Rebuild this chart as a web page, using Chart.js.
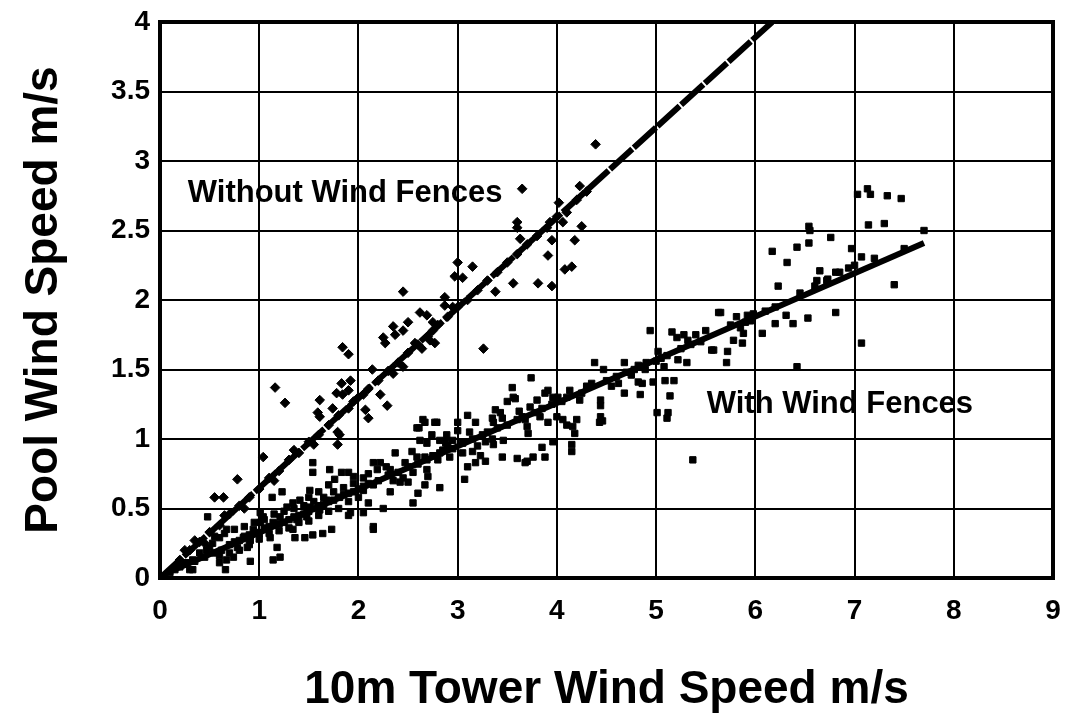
<!DOCTYPE html>
<html>
<head>
<meta charset="utf-8">
<script src="https://cdn.jsdelivr.net/npm/chart.js@4.4.1/dist/chart.umd.min.js"></script>
<style>
  html, body { margin: 0; padding: 0; background: #ffffff; }
  #c { display: block; }
</style>
</head>
<body>
<canvas id="c" width="1070" height="715"></canvas>
<script>
// ---------------- DATA ----------------
const xTickLabels = ['0', '1', '2', '3', '4', '5', '6', '7', '8', '9'];
const yTickLabels = ['0', '0.5', '1', '1.5', '2', '2.5', '3', '3.5', '4'];
const xAxisTitle = '10m Tower Wind Speed m/s';
const yAxisTitle = 'Pool Wind Speed m/s';
const withoutLabel = 'Without Wind Fences';
const withLabel = 'With Wind Fences';

// "Without Wind Fences" measurements (diamonds): [tower, pool]
const withoutFences = [
  [4.39,3.12],[3.65,2.80],[4.23,2.82],[4.02,2.70],[3.60,2.56],[3.60,2.52],[3.93,2.56],[4.06,2.56],
  [4.25,2.53],[3.63,2.44],[3.95,2.43],[4.18,2.43],[3.91,2.32],[4.08,2.22],[4.15,2.24],[3.00,2.27],
  [3.15,2.24],[2.97,2.17],[3.05,2.16],[3.56,2.12],[3.81,2.12],[3.95,2.10],[3.38,2.06],[2.45,2.06],
  [2.87,2.02],[2.87,1.96],[2.95,1.95],[2.62,1.91],[2.69,1.89],[2.75,1.84],[2.50,1.84],[2.35,1.81],
  [2.45,1.78],[2.25,1.73],[2.27,1.69],[2.37,1.75],[2.72,1.71],[2.77,1.69],[2.57,1.69],[2.64,1.65],
  [1.84,1.66],[1.90,1.61],[3.26,1.65],[2.14,1.50],[1.16,1.37],[1.26,1.26],[1.61,1.28],[1.83,1.40],
  [1.92,1.42],[1.90,1.35],[1.78,1.33],[1.84,1.32],[2.22,1.32],[2.29,1.24],[1.59,1.19],[1.61,1.16],
  [1.74,1.22],[2.07,1.21],[2.10,1.15],[1.79,1.05],[1.81,1.03],[1.79,0.96],[1.04,0.87],[0.78,0.71],
  [0.55,0.58],[0.64,0.58],
  [0.20,0.13],[0.30,0.20],[0.40,0.26],[0.50,0.33],[0.60,0.38],[0.70,0.46],[0.80,0.52],[0.90,0.58],
  [1.00,0.64],[1.10,0.72],[1.20,0.77],[1.30,0.85],[1.40,0.90],[1.50,0.98],[1.60,1.03],[1.70,1.10],
  [1.80,1.17],[1.90,1.22],[2.00,1.30],[2.10,1.36],[2.20,1.42],[2.30,1.49],[2.40,1.55],[2.50,1.62],
  [2.60,1.68],[2.70,1.74],[2.80,1.82],[2.90,1.88],[3.00,1.95],[3.10,2.00],[3.20,2.07],[3.40,2.20],
  [3.60,2.33],[3.80,2.46],[4.00,2.60],[4.10,2.63],[4.20,2.72],[2.35,1.47],[2.45,1.52],[1.95,1.27],
  [2.05,1.32],[2.75,1.78],[3.30,2.14],[3.50,2.27],[3.70,2.40],[3.90,2.52],[4.30,2.78],
  [0.35,0.27],[0.45,0.25],[0.65,0.45],[0.85,0.50],[1.15,0.70],[1.35,0.92],[1.55,0.96],[0.25,0.20]
];

// "With Wind Fences" measurements (squares): [tower, pool]
const withFences = [
  [7.03,2.76],[7.13,2.80],[7.16,2.76],[7.33,2.75],[7.47,2.73],[7.14,2.54],[7.30,2.55],[7.70,2.50],
  [6.54,2.53],[6.55,2.50],[6.17,2.35],[6.42,2.38],[6.54,2.41],[6.76,2.45],[6.97,2.37],[7.07,2.31],
  [6.32,2.27],[6.65,2.21],[6.81,2.20],[6.94,2.23],[6.62,2.14],[6.73,2.15],[6.23,2.10],[7.40,2.11],
  [5.65,1.91],[5.81,1.88],[5.92,1.89],[5.95,1.85],[5.85,1.80],[5.78,1.71],[5.87,1.69],[5.58,1.64],
  [5.72,1.63],[5.71,1.55],[5.88,1.76],[6.07,1.76],[6.20,1.83],[6.31,1.89],[6.38,1.83],[6.53,1.87],
  [6.81,1.91],[7.07,1.69],[6.42,1.52],[5.63,1.91],
  [6.45,2.05],[6.60,2.10],[6.20,1.95],[5.98,1.90],[6.10,1.92],[6.85,2.20],[7.00,2.25],[7.20,2.30],
  [7.50,2.37],[6.72,2.14],[5.75,1.82],[5.90,1.84],
  [4.94,1.78],[5.16,1.77],[5.21,1.73],[5.32,1.71],[5.56,1.64],[5.02,1.63],[5.11,1.60],[5.22,1.57],
  [5.31,1.55],[4.38,1.55],[4.68,1.55],[4.47,1.50],[4.82,1.53],[4.89,1.50],[3.74,1.44],[4.82,1.41],
  [4.86,1.40],[4.97,1.41],[5.09,1.42],[5.18,1.42],[4.68,1.33],[4.84,1.32],[5.14,1.31],[5.01,1.19],
  [5.12,1.19],[5.11,1.15],[4.44,1.16],[4.46,1.13],[4.43,1.12],[5.37,0.85],[3.91,1.35],[3.96,1.30],
  [4.13,1.35],[4.23,1.28],[4.30,1.37],[4.44,1.28],[4.44,1.24],[3.73,1.23],[3.78,1.19],[3.83,1.16],
  [3.68,1.14],[3.70,1.09],[3.91,1.12],[4.00,1.16],[4.06,1.14],[4.10,1.10],[4.16,1.09],[4.20,1.14],
  [4.18,1.04],[3.71,1.04],[3.96,0.98],[4.15,0.96],[4.15,0.91],[3.85,0.94],[3.88,0.87],[3.76,0.87],
  [3.68,0.83],
  [4.50,1.42],[4.60,1.45],[4.70,1.48],[4.75,1.46],[4.90,1.55],[5.00,1.56],[5.05,1.58],[5.25,1.65],
  [5.35,1.68],[5.45,1.70],[4.30,1.38],[4.25,1.33],[4.10,1.30],[4.05,1.27],[3.95,1.25],[3.85,1.22],
  [5.40,1.75],[5.50,1.78],[5.28,1.75],[4.55,1.38],[4.35,1.40],[4.62,1.40],[4.78,1.50],[5.08,1.52],
  [3.55,1.37],[3.56,1.30],[3.50,1.27],[3.38,1.21],[3.43,1.19],[3.35,1.15],[3.36,1.12],[3.10,1.17],
  [3.00,1.12],[3.46,0.99],[3.36,0.96],[3.45,0.87],[3.60,0.86],[3.70,0.84],[3.28,0.84],[3.15,0.91],
  [3.23,0.88],[3.18,0.83],[3.10,0.80],[3.07,0.71],[3.00,1.06],[2.95,0.99],[2.67,1.12],[2.79,1.12],
  [2.61,1.08],[2.62,0.99],[2.74,1.03],[2.89,1.03],[2.82,0.99],[2.69,0.97],[2.67,0.87],[2.69,0.85],
  [2.82,0.90],[2.92,0.87],[2.37,0.90],[2.54,0.91],[2.59,0.87],[2.47,0.83],[2.15,0.83],[2.22,0.83],
  [2.19,0.78],[2.32,0.78],[2.69,0.78],[2.70,0.73],[2.67,0.67],[2.60,0.61],[2.55,0.54],[2.42,0.69],
  [2.50,0.69],[2.32,0.62],[2.25,0.50],[2.82,0.65],[2.05,0.63],[2.10,0.54],[2.05,0.47],[2.15,0.37],
  [2.30,0.74],[2.40,0.76],[2.50,0.80],[2.60,0.82],[2.75,0.88],[2.85,0.92],[2.95,0.93],[3.05,0.97],
  [3.15,1.00],[3.25,1.03],[3.30,1.05],[3.40,1.08],[3.50,1.10],[3.60,1.14],[3.65,1.16],[3.20,0.95],
  [3.05,0.90],[2.90,0.95],[2.80,0.85],[2.35,0.70],[2.20,0.70],[2.45,0.72],[3.35,1.00],[2.65,1.14],
  [2.77,1.12],[3.18,1.12],[3.58,1.29],[3.88,1.33],[4.01,1.30],[2.59,1.08],
  [2.28,0.80],[2.55,0.76],[2.88,0.97],[3.12,1.05],[3.45,1.15],[3.28,0.98],[3.62,1.20],[3.80,1.28],
  [1.54,0.83],[1.54,0.76],[1.71,0.78],[1.83,0.76],[1.90,0.76],[1.95,0.73],[1.76,0.71],[1.51,0.63],
  [1.23,0.62],[1.13,0.58],[1.90,0.45],[2.15,0.35],[1.73,0.35],[1.64,0.32],[1.54,0.31],[1.46,0.29],
  [1.36,0.29],[0.91,0.12],[0.48,0.44],[0.30,0.06],[1.18,0.22],[1.21,0.15],[1.14,0.13],[1.38,0.42],
  [1.34,0.35],[0.74,0.15],[0.67,0.13],[0.60,0.11],[0.66,0.06],[0.33,0.06],[1.01,0.47],[1.04,0.44],
  [1.01,0.40],[0.94,0.35],[0.84,0.29],[0.78,0.22],[0.88,0.22],[0.91,0.27],[0.60,0.29],[0.53,0.25],
  [0.47,0.20],[0.40,0.18],[0.33,0.13],[0.27,0.11],[0.67,0.35],[1.28,0.51],[1.34,0.54],[1.41,0.56],
  [1.21,0.44],[1.14,0.40],[1.08,0.35],[1.11,0.29],[1.51,0.51],[1.61,0.49],[1.68,0.56],[1.81,0.58],
  [1.48,0.44],[1.92,0.47],
  [0.10,0.04],[0.15,0.06],[0.20,0.08],[0.25,0.10],[0.35,0.12],[0.45,0.15],[0.55,0.18],[0.62,0.20],
  [0.70,0.24],[0.75,0.26],[0.80,0.27],[0.85,0.30],[0.90,0.31],[0.95,0.33],[1.00,0.32],[1.05,0.36],
  [1.10,0.37],[1.15,0.38],[1.20,0.39],[1.25,0.40],[1.30,0.42],[1.35,0.44],[1.40,0.45],[1.45,0.46],
  [1.50,0.48],[1.55,0.50],[1.60,0.52],[1.65,0.53],[1.70,0.55],[1.75,0.56],[1.80,0.58],[1.85,0.60],
  [1.90,0.61],[1.95,0.62],[2.00,0.64],[2.05,0.66],[2.10,0.68],[2.15,0.67],
  [0.50,0.22],[0.60,0.16],[0.70,0.18],[0.80,0.20],[0.90,0.24],[1.00,0.28],[1.10,0.32],[1.20,0.34],
  [1.30,0.36],[1.40,0.40],[1.50,0.41],[1.60,0.45],[1.70,0.48],[1.80,0.50],[1.90,0.55],[2.00,0.58],
  [0.55,0.30],[0.65,0.32],[0.75,0.35],[0.85,0.37],[0.95,0.40],[1.05,0.42],[1.15,0.46],[1.25,0.48],
  [1.35,0.50],[1.45,0.52],[1.55,0.55],[1.65,0.58],[1.75,0.62],[1.85,0.65],[1.95,0.68],[2.05,0.72],
  [2.10,0.75],[1.60,0.62],[1.50,0.58],[1.70,0.67]
];

// Fitted trend lines: [tower, pool] end points
const withoutFit = [[0.00, 0.00], [6.17, 4.00]];
const withFit = [[0.05, 0.03], [7.70, 2.41]];

// ---------------- CHART ----------------
const toXY = arr => arr.map(p => ({ x: p[0], y: p[1] }));
const FONT = '"Liberation Sans", Arial, Helvetica, sans-serif';

const annotations = [
  { text: withoutLabel, x: 0.28, y: 2.77 },
  { text: withLabel, x: 5.51, y: 1.25 }
];

const annotationPlugin = {
  id: 'textNotes',
  afterDatasetsDraw(chart) {
    const { ctx, scales } = chart;
    ctx.save();
    ctx.fillStyle = '#000';
    ctx.font = 'bold 31px ' + FONT;
    ctx.textAlign = 'left';
    ctx.textBaseline = 'middle';
    annotations.forEach(a => {
      ctx.fillText(a.text, scales.x.getPixelForValue(a.x), scales.y.getPixelForValue(a.y));
    });
    ctx.restore();
  }
};

const framePlugin = {
  id: 'frame',
  afterDraw(chart) {
    const { ctx, chartArea: a } = chart;
    ctx.save();
    ctx.strokeStyle = '#000';
    ctx.lineWidth = 4;
    ctx.strokeRect(a.left, a.top, a.right - a.left, a.bottom - a.top);
    ctx.restore();
  }
};

new Chart(document.getElementById('c'), {
  type: 'scatter',
  data: {
    datasets: [
      {
        label: 'Without fit', type: 'line', data: toXY(withoutFit), order: 0,
        borderColor: '#000', borderWidth: 6, borderDash: [30, 2], pointRadius: 0, fill: false, tension: 0
      },
      {
        label: 'With fit', type: 'line', data: toXY(withFit), order: 0,
        borderColor: '#000', borderWidth: 6, pointRadius: 0, fill: false, tension: 0
      },
      {
        label: withoutLabel, data: toXY(withoutFences), order: 1,
        pointStyle: 'rectRot', pointRadius: 4.8, backgroundColor: '#000', borderColor: '#000', borderWidth: 1
      },
      {
        label: withLabel, data: toXY(withFences), order: 2,
        pointStyle: 'rect', pointRadius: 4.5, backgroundColor: '#000', borderColor: '#000', borderWidth: 1
      }
    ]
  },
  options: {
    responsive: false,
    animation: false,
    events: [],
    layout: { padding: { top: 22, right: 17, bottom: 0, left: 0 } },
    plugins: { legend: { display: false }, tooltip: { enabled: false } },
    scales: {
      x: {
        type: 'linear', min: 0, max: 9,
        afterFit: s => { s.height = 137; s.paddingLeft = 0; s.paddingRight = 0; },
        ticks: {
          stepSize: 1, padding: 16, color: '#000',
          font: { family: FONT, size: 28, weight: 'bold' },
          callback: v => xTickLabels[Math.round(v)]
        },
        grid: { color: '#000', lineWidth: 2, drawTicks: false },
        border: { display: false },
        title: {
          display: true, text: xAxisTitle, color: '#000',
          font: { family: FONT, size: 46, weight: 'bold' },
          padding: { top: 0, bottom: -3 }
        }
      },
      y: {
        type: 'linear', min: 0, max: 4,
        afterFit: s => { s.width = 160; s.paddingTop = 0; s.paddingBottom = 0; },
        ticks: {
          stepSize: 0.5, padding: 10, color: '#000',
          font: { family: FONT, size: 28, weight: 'bold' },
          callback: v => yTickLabels[Math.round(v * 2)]
        },
        grid: { color: '#000', lineWidth: 2, drawTicks: false },
        border: { display: false },
        title: {
          display: true, text: yAxisTitle, color: '#000',
          font: { family: FONT, size: 46, weight: 'bold' },
          padding: { top: 17, bottom: 0 }
        }
      }
    }
  },
  plugins: [annotationPlugin, framePlugin]
});
</script>
</body>
</html>
